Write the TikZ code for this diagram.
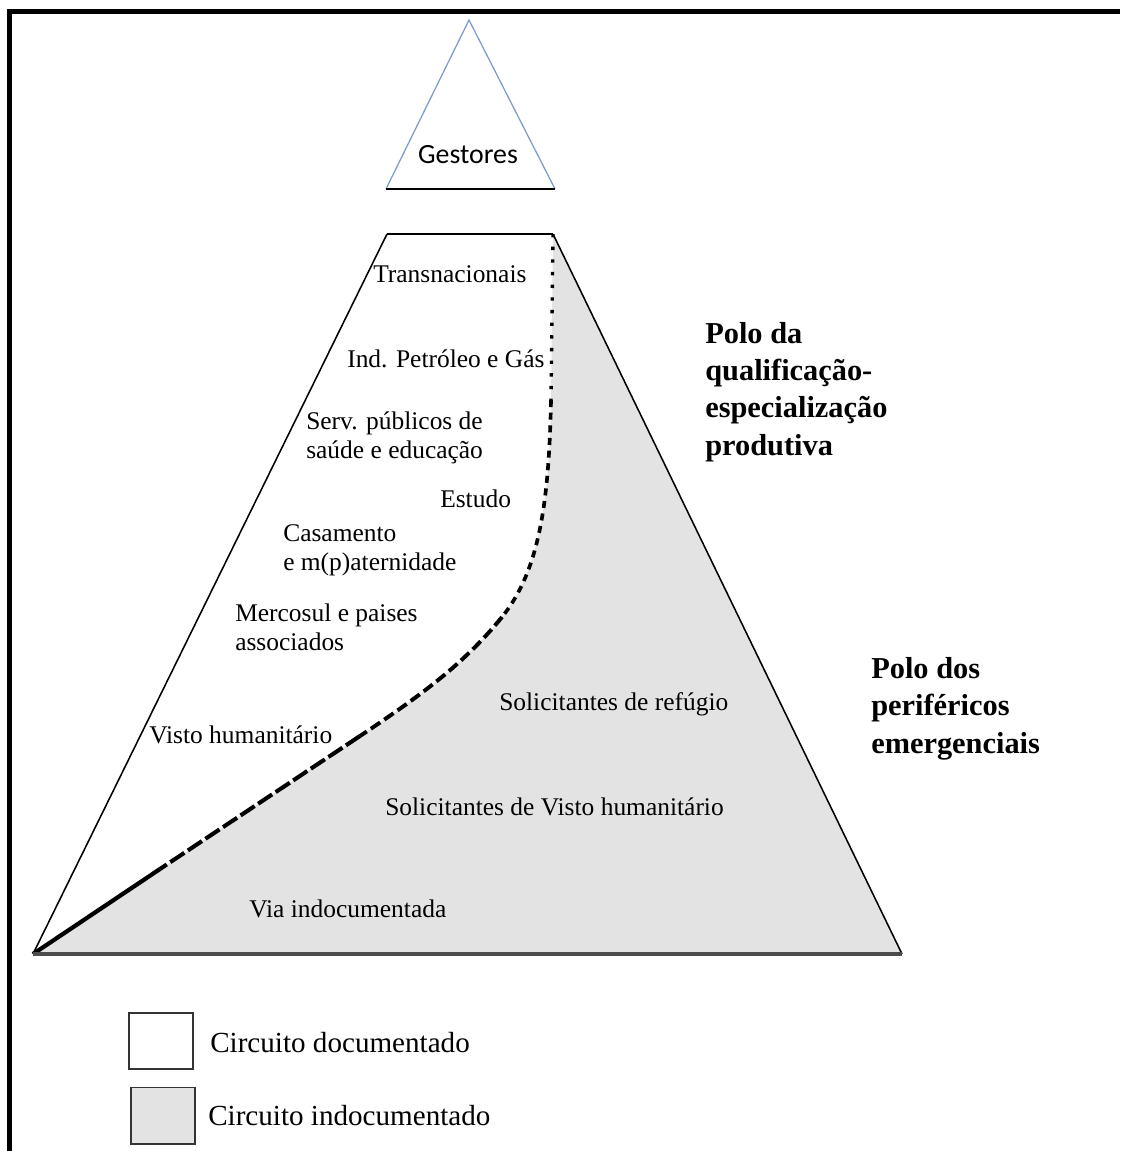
\documentclass[tikz,border=0pt]{standalone}
\usepackage{fontspec}
\setmainfont{Liberation Serif}
\newfontfamily\gestfont{Carlito}
\definecolor{undocgray}{RGB}{227,227,227}
\definecolor{topblue}{RGB}{125,155,205}
\newcommand{\bodyfont}{\fontsize{18.1}{20}\selectfont}
\newcommand{\polofont}{\fontsize{21.6}{26.4}\selectfont\bfseries}
\newcommand{\legfont}{\fontsize{20.7}{24}\selectfont}

\begin{document}
\begin{tikzpicture}[x=0.025cm, y=-0.025cm,
  lbl/.style={font=\bodyfont, anchor=base west, inner sep=0pt, align=left},
  polo/.style={font=\polofont, anchor=base west, inner sep=0pt, align=left},
  legbox/.style={draw=black!80, line width=1.4pt, minimum width=1.6cm, minimum height=1.4cm, inner sep=0pt}]
\useasboundingbox (0,0) rectangle (1120,1151);
% frame
\draw[line width=3.5pt] (1120,11.5) -- (9.5,11.5) -- (9.5,1151);
% top triangle
\coordinate (apex) at (469,20);
\coordinate (gl) at (386,189);
\coordinate (gr) at (555,189);
\draw[topblue, line width=0.9pt] (gl) -- (apex) -- (gr);
\draw[line width=1.8pt] (gl) -- (gr);
\node[font=\gestfont\fontsize{19.8}{22}\selectfont, anchor=base, inner sep=0pt] (gest) at (468,163) {Gestores};
% pyramid
\coordinate (tl) at (387,234);
\coordinate (tr) at (553,234);
\coordinate (bl) at (33,954);
\coordinate (br) at (902,954);
\coordinate (d1) at (551,400);
\coordinate (d2) at (502,617);
\coordinate (d3) at (360,736);
\coordinate (d4) at (160,869);
\fill[undocgray] (tr) -- (d1) .. controls (549,500) and (540,570) .. (d2) .. controls (464,664) and (420,696) .. (d3) -- (bl) -- (br) -- cycle;
\draw[line width=2.4pt, dash pattern=on 2.4pt off 6.6pt] (tr) -- (d1);
\draw[line width=2.6pt, dash pattern=on 5pt off 4pt] (d1) .. controls (549,500) and (540,570) .. (d2);
\draw[line width=2.8pt, dash pattern=on 8pt off 3.5pt] (d2) .. controls (464,664) and (420,696) .. (d3);
\draw[line width=2.9pt, dash pattern=on 12pt off 3pt] (d3) -- (d4);
\draw[line width=3pt] (d4) -- (bl);
\draw[line width=1.1pt] (bl) -- (tl);
\draw[line width=1.1pt] (tr) -- (br);
\draw[line width=2.1pt] (tl) -- (tr);
\draw[black!70, line width=2.4pt] (bl) -- (br);
% documented side
\node[lbl] (trans) at (373,282) {Transnacionais};
\node[lbl] (petro) at (347,367) {Ind. Petróleo e Gás};
\node[lbl] (serv) at (306,458) {Serv. públicos de\\saúde e educação};
\node[lbl] (estudo) at (440,507) {Estudo};
\node[lbl] (casam) at (283,570) {Casamento\\e m(p)aternidade};
\node[lbl] (merco) at (235,650) {Mercosul e paises\\associados};
\node[lbl] (vistoh) at (149,743) {Visto humanitário};
% undocumented side
\node[lbl] (refug) at (499,710) {Solicitantes de refúgio};
\node[lbl] (solvis) at (385,815) {Solicitantes de Visto humanitário};
\node[lbl] (viaind) at (249,917) {Via indocumentada};
% poles
\node[polo] (poloq) at (705,455) {Polo da\\qualificação-\\especialização\\produtiva};
\node[polo] (polop) at (871,753) {Polo dos\\periféricos\\emergenciais};
% legend
\node[legbox] (docbox) at (161,1041) {};
\node[legbox, fill=undocgray] (undocbox) at (163,1115.5) {};
\node[font=\legfont, anchor=base west, inner sep=0pt] (doclbl) at (210,1052) {Circuito documentado};
\node[font=\legfont, anchor=base west, inner sep=0pt] (undoclbl) at (208,1125) {Circuito indocumentado};
\end{tikzpicture}
\end{document}
